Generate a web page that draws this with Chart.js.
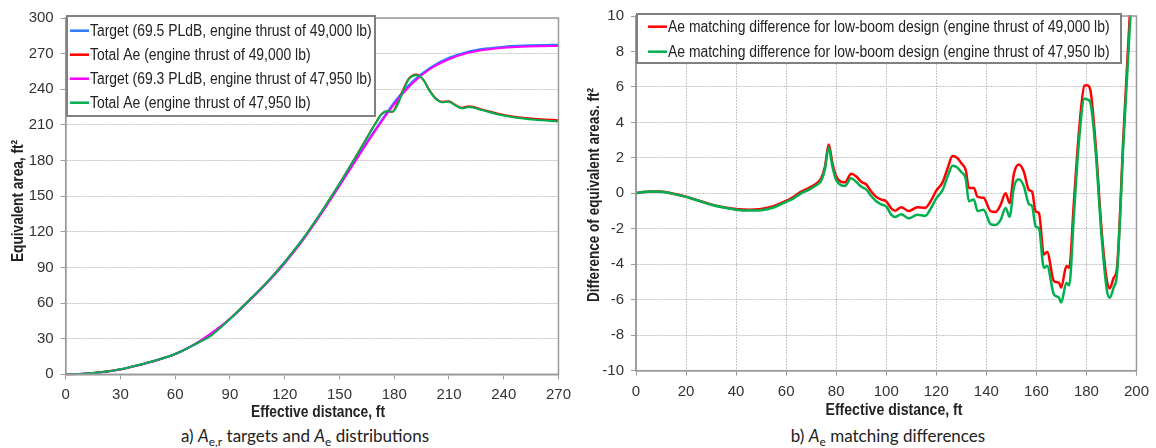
<!DOCTYPE html>
<html>
<head>
<meta charset="utf-8">
<script src="https://cdn.jsdelivr.net/npm/chart.js@4.4.0/dist/chart.umd.min.js"></script>
<style>
  body { margin: 0; width: 1156px; height: 448px; background: #fff; position: relative; overflow: hidden; }
  .panel { position: absolute; top: 0; width: 578px; height: 420px; }
  .caption { position: absolute; top: 426px; width: 400px; text-align: center;
             font-family: Lato, 'Open Sans', sans-serif; font-size: 17px; color: #222; line-height: 20px; }
  .caption sub { font-size: 12px; line-height: 0; }
</style>
</head>
<body>
<div class="panel" style="left:0"><canvas id="chartA" width="578" height="420"></canvas></div>
<div class="panel" style="left:578px"><canvas id="chartB" width="578" height="420"></canvas></div>
<div class="caption" style="left:105px">a) <i>A</i><sub>e,r</sub> targets and <i>A</i><sub>e</sub> distributions</div>
<div class="caption" style="left:688px">b) <i>A</i><sub>e</sub> matching differences</div>

<script>
// --- panel a: equivalent area targets and distributions ---
const targetX = [0, 10, 20, 30, 40, 50, 60, 70, 80, 90, 100, 110, 120, 130, 140, 150, 160, 170, 180, 190, 200, 210, 220, 230, 240, 250, 260, 270];
const target49000 = [0, 0.5, 1.9, 4.2, 7.8, 12, 17.1, 24.6, 34.5, 46.8, 61.5, 77, 94.5, 114, 136, 159.5, 183.5, 207, 229, 246.5, 258.5, 266.5, 271.5, 274.3, 275.9, 276.8, 277.3, 277.5];
const target47950 = [0, 0.4, 1.7, 4, 7.5, 11.7, 17, 24.8, 35, 46.5, 61, 76.5, 93.5, 113, 135, 158.5, 182.5, 206, 227.5, 245, 257.5, 265.3, 270.5, 273.3, 274.9, 275.8, 276.2, 276.4];

const aeX = [0, 10, 20, 30, 40, 50, 60, 70, 75, 77, 80, 85, 90, 100, 110, 120, 130, 140, 150, 155, 160, 165, 170, 173, 176, 179, 182, 185, 188, 192, 196, 199, 203, 206, 210, 213, 217, 221, 228, 237, 246, 257, 270];
const ae49000 = [0, 0.5, 1.9, 4.2, 7.8, 12, 17.1, 24.6, 28.8, 30.5, 33.5, 40, 46.8, 61.5, 77, 94.5, 114, 136.5, 160.5, 173, 186, 199, 212, 219, 221.5, 221, 229, 240, 249, 252.5, 248, 240, 232, 229.5, 230, 227.3, 224.4, 225.6, 223, 219.4, 216.9, 215.2, 214];
const ae47950 = [0, 0.5, 1.9, 4.2, 7.8, 12, 17.1, 24.5, 28.5, 30, 33, 39.5, 46.5, 61.5, 77, 94.5, 114, 136.5, 160.5, 173, 186, 199, 212, 219, 221.5, 221, 227.5, 239, 248.5, 251.8, 248, 239.5, 231.5, 229, 229.5, 226.8, 224, 225, 222.5, 218.7, 216.2, 214.3, 212.8];

// --- panel b: matching differences ---
const diffX = [0, 3, 6, 10, 15, 20, 25, 30, 35, 40, 45, 50, 55, 60, 63, 66, 69, 72, 74, 75.5, 77, 78.5, 80, 82, 83.5, 86, 88, 90, 92, 94, 96, 98, 100, 102, 103.5, 106, 109, 112.5, 115.5, 118, 120, 122.5, 124.5, 126.5, 128.5, 130, 131.8, 133, 135, 136.5, 138.9, 141.8, 143.7, 145.7, 147.7, 149.3, 151, 153, 155, 157, 158.3, 159.7, 161, 163, 164.3, 167, 169, 169.9, 172, 173.1, 175, 177, 179.2, 180.3, 181.6, 183.6, 186.2, 188.2, 189.3, 190.9, 192.2, 194.8, 197.3, 198.5];
const diff49000 = [0, 0.08, 0.11, 0.1, -0.02, -0.19, -0.4, -0.62, -0.78, -0.88, -0.92, -0.88, -0.72, -0.42, -0.2, 0.1, 0.3, 0.55, 0.85, 1.5, 2.75, 1.7, 0.95, 0.65, 0.62, 1.1, 0.95, 0.65, 0.5, 0.1, -0.2, -0.35, -0.45, -0.85, -0.98, -0.78, -1.0, -0.78, -0.82, -0.38, 0.15, 0.62, 1.4, 2.1, 1.98, 1.7, 1.3, 0.3, 0.3, -0.2, -0.25, -1.02, -1.05, -0.65, 0.0, -0.55, 1.1, 1.63, 1.22, 0.19, 0.09, -1.02, -1.11, -3.45, -3.3, -4.95, -5.04, -5.32, -4.1, -4.2, -0.46, 3.46, 6.07, 6.1, 5.8, 2.9, -2.33, -4.95, -5.36, -4.76, -4.2, 3.3, 10, 12.5];
const diff47950 = [0, 0.08, 0.1, 0.09, -0.03, -0.2, -0.42, -0.64, -0.8, -0.92, -0.97, -0.95, -0.8, -0.48, -0.28, 0.0, 0.2, 0.45, 0.72, 1.35, 2.6, 1.5, 0.75, 0.45, 0.42, 0.85, 0.65, 0.38, 0.22, -0.15, -0.45, -0.62, -0.75, -1.2, -1.33, -1.18, -1.42, -1.2, -1.27, -0.8, -0.28, 0.18, 0.95, 1.55, 1.45, 1.2, 0.8, -0.45, -0.35, -1.0, -0.92, -1.75, -1.78, -1.5, -0.82, -1.32, 0.35, 0.8, 0.4, -0.6, -0.72, -1.87, -1.96, -4.2, -4.1, -5.7, -5.88, -6.16, -5.04, -5.2, -1.21, 2.9, 5.33, 5.3, 5.1, 2.5, -2.7, -5.5, -5.88, -5.3, -4.57, 2.9, 9.3, 12];

const narrow = "'Liberation Sans Narrow', 'Arial Narrow', 'Liberation Sans', sans-serif";

function pts(xs, ys) {
    return xs.map((x, i) => ({ x: x, y: ys[i] }));
}

// border all round the plot area
const framePlugin = {
    id: 'frame',
    afterDatasetsDraw(chart) {
        const a = chart.chartArea, ctx = chart.ctx;
        ctx.save();
        ctx.strokeStyle = '#9a9a9a';
        ctx.lineWidth = 1.5;
        ctx.strokeRect(a.left, a.top, a.right - a.left, a.bottom - a.top);
        ctx.restore();
    }
};

// Excel-style legend box sitting inside the plot (text squeezed like Arial Narrow)
const boxLegend = {
    id: 'boxLegend',
    afterDraw(chart, args, opts) {
        const ctx = chart.ctx;
        ctx.save();
        ctx.fillStyle = '#fff';
        ctx.fillRect(opts.x, opts.y, opts.w, opts.h);
        ctx.strokeStyle = '#808080';
        ctx.lineWidth = 2;
        ctx.strokeRect(opts.x, opts.y, opts.w, opts.h);
        ctx.font = '16px ' + narrow;
        ctx.textBaseline = 'middle';
        chart.data.datasets.forEach((ds, i) => {
            const yy = opts.y + opts.first + i * opts.step;
            ctx.strokeStyle = ds.borderColor;
            ctx.lineWidth = 2.5;
            ctx.beginPath();
            ctx.moveTo(opts.x + opts.lineX, yy);
            ctx.lineTo(opts.x + opts.lineX + 19, yy);
            ctx.stroke();
            ctx.fillStyle = '#222';
            const w = ctx.measureText(ds.label).width * 0.87;
            ctx.fillText(ds.label, opts.x + opts.lineX + 20, yy + 1, w);
        });
        ctx.restore();
    }
};

// axis titles, squeezed to the narrow width of the original
const axisTitles = {
    id: 'axisTitles',
    afterDraw(chart, args, o) {
        const ctx = chart.ctx;
        ctx.save();
        ctx.fillStyle = '#222';
        ctx.font = 'bold 16px ' + narrow;
        ctx.textAlign = 'center';
        ctx.textBaseline = 'middle';
        ctx.fillText(o.xText, o.xCenter, o.xY, o.xWidth);
        ctx.translate(o.yX, o.yCenter);
        ctx.rotate(-Math.PI / 2);
        ctx.fillText(o.yText, 0, 0, o.yWidth);
        ctx.restore();
    }
};

function lineSet(label, color, xs, ys, width, order) {
    return {
        label: label,
        data: pts(xs, ys),
        borderColor: color,
        backgroundColor: color,
        borderWidth: width,
        pointRadius: 0,
        cubicInterpolationMode: 'monotone',
        fill: false,
        order: order,
        clip: 1
    };
}

function axis(min, max, step, fixSize, gridOn) {
    return {
        type: 'linear',
        min: min,
        max: max,
        ticks: { stepSize: step, font: { family: narrow, size: 15 }, color: '#333', padding: 7, maxRotation: 0 },
        grid: { display: true, drawOnChartArea: gridOn, color: '#c4c4c4', tickLength: 5, tickColor: '#9a9a9a', lineWidth: 1 },
        border: { color: '#9a9a9a', width: 1.5, dash: [2, 1] },
        afterFit: fixSize
    };
}

Chart.defaults.animation = false;

new Chart(document.getElementById('chartA'), {
    type: 'line',
    data: {
        datasets: [
            lineSet('Target (69.5 PLdB, engine thrust of 49,000 lb)', '#2b7bff', targetX, target49000, 2, 3),
            lineSet('Total Ae (engine thrust of 49,000 lb)', '#ff0000', aeX, ae49000, 2, 2),
            lineSet('Target (69.3 PLdB, engine thrust of 47,950 lb)', '#ff00ff', targetX, target47950, 2, 1),
            lineSet('Total Ae (engine thrust of 47,950 lb)', '#00b050', aeX, ae47950, 2, 0)
        ]
    },
    options: {
        responsive: false,
        layout: { padding: { left: 0, top: 18, right: 14, bottom: 0 } },
        plugins: {
            legend: { display: false },
            tooltip: { enabled: false },
            boxLegend: { x: 67, y: 16, w: 308, h: 100, first: 14.7, step: 24, lineX: 3 },
            axisTitles: { xText: 'Effective distance, ft', xCenter: 318, xY: 413, xWidth: 134,
                          yText: 'Equivalent area, ft\u00B2', yX: 18.5, yCenter: 201, yWidth: 122 }
        },
        scales: {
            x: axis(0, 270, 30, s => { s.height = 45.7; }, false),
            y: axis(0, 300, 30, s => { s.width = 65.7; }, true)
        }
    },
    plugins: [framePlugin, boxLegend, axisTitles]
});

new Chart(document.getElementById('chartB'), {
    type: 'line',
    data: {
        datasets: [
            lineSet('Ae matching difference for low-boom design (engine thrust of 49,000 lb)', '#ff0000', diffX, diff49000, 2.5, 1),
            lineSet('Ae matching difference for low-boom design (engine thrust of 47,950 lb)', '#00b050', diffX, diff47950, 2.5, 0)
        ]
    },
    options: {
        responsive: false,
        layout: { padding: { left: 0, top: 12.7, right: 16, bottom: 0 } },
        plugins: {
            legend: { display: false },
            tooltip: { enabled: false },
            boxLegend: { x: 59, y: 14, w: 484, h: 49, first: 12.7, step: 25, lineX: 11 },
            axisTitles: { xText: 'Effective distance, ft', xCenter: 316, xY: 411, xWidth: 137,
                          yText: 'Difference of equivalent areas. ft\u00B2', yX: 17, yCenter: 195, yWidth: 214 }
        },
        scales: {
            x: axis(0, 200, 20, s => { s.height = 49.3; }, true),
            y: axis(-10, 10, 2, s => { s.width = 58; }, true)
        }
    },
    plugins: [framePlugin, boxLegend, axisTitles]
});
</script>
</body>
</html>
